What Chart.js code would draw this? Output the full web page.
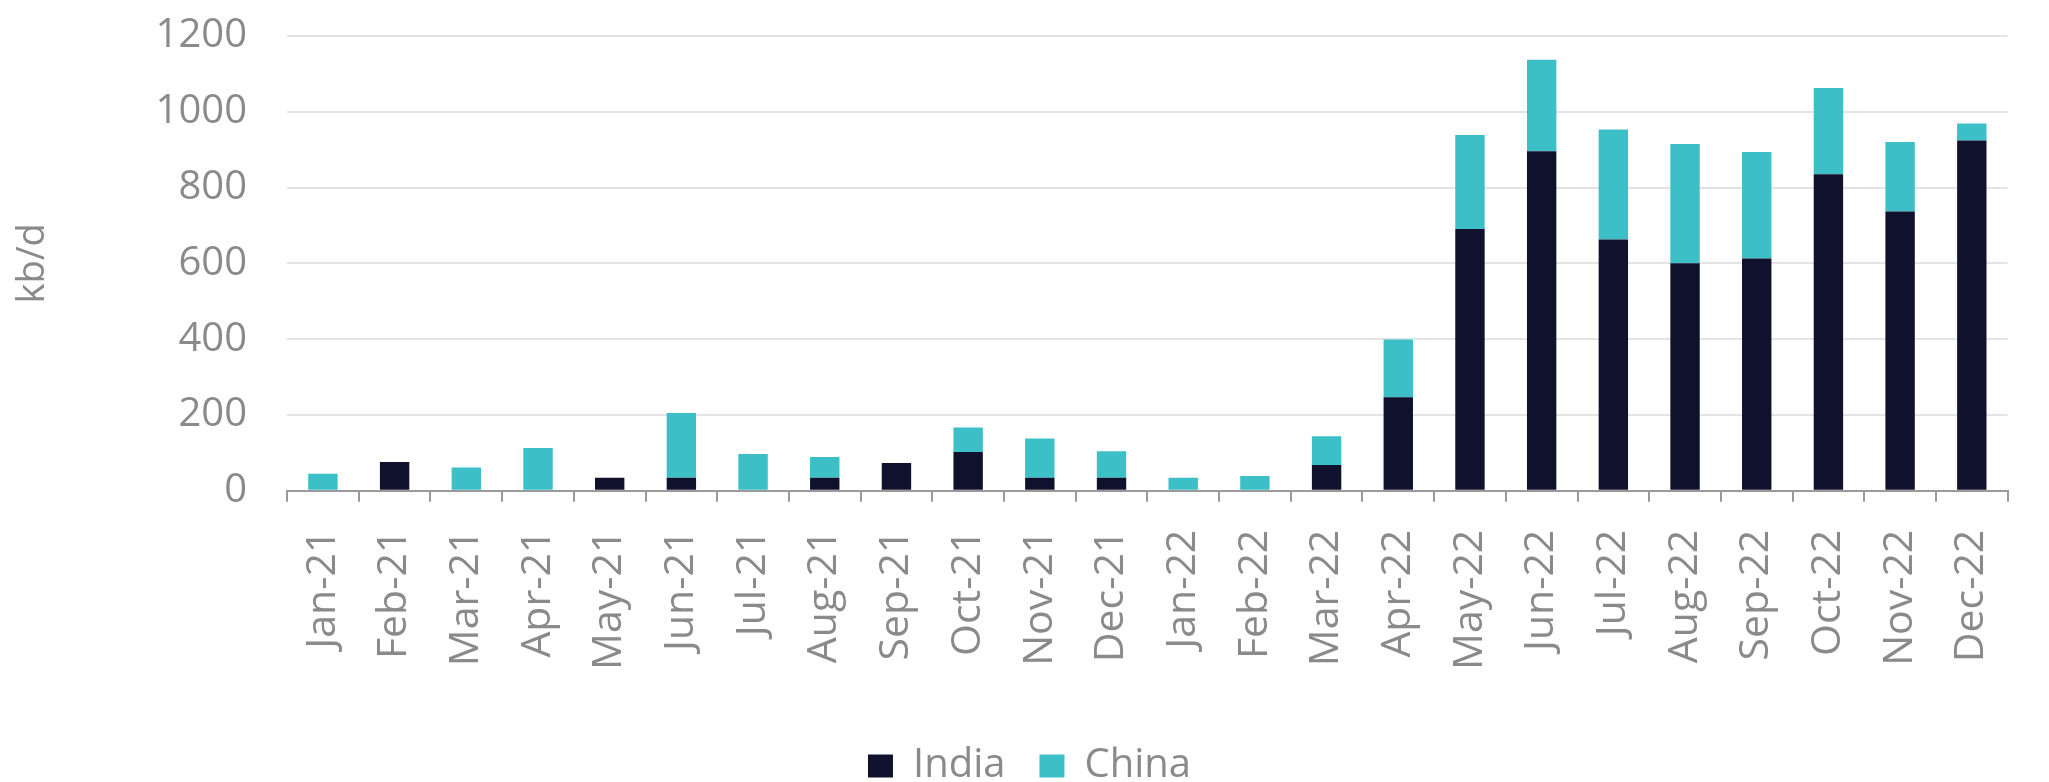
<!DOCTYPE html>
<html>
<head>
<meta charset="utf-8">
<script src="https://cdn.jsdelivr.net/npm/chart.js@4/dist/chart.umd.min.js"></script>
<style>
  html, body { margin: 0; padding: 0; background: #ffffff; }
  #wrap { width: 2049px; height: 782px; }
</style>
</head>
<body>
<div id="wrap"><canvas id="exports" width="2049" height="782"></canvas></div>
<script>
var months = ["Jan-21","Feb-21","Mar-21","Apr-21","May-21","Jun-21","Jul-21","Aug-21","Sep-21","Oct-21","Nov-21","Dec-21",
              "Jan-22","Feb-22","Mar-22","Apr-22","May-22","Jun-22","Jul-22","Aug-22","Sep-22","Oct-22","Nov-22","Dec-22"];
var india = [0, 76, 0, 0, 34, 34, 0, 34, 73, 102, 34, 34,
             0, 0, 68, 247, 691, 896, 663, 600, 613, 835, 737, 924];
var china = [45, 0, 61, 113, 0, 171, 97, 55, 0, 65, 104, 70,
             34, 39, 76, 152, 248, 241, 290, 315, 281, 228, 183, 45];
var yTicks = [0, 200, 400, 600, 800, 1000, 1200];

var greyText = "#8a8a8a";
var fontName = "'Open Sans', Lato, sans-serif";

function generate_stack(div_id) {
    var barData = {
      labels: months,
      datasets: [{
        label: "India",
        data: india,
        backgroundColor: "#10112d",
        borderWidth: 0
      }, {
        label: "China",
        data: china,
        backgroundColor: "#3cbfc6",
        borderWidth: 0
      }]
    };

    var barOptions = {
      responsive: false,
      animation: false,
      layout: { padding: { left: 10, right: 0, top: 0, bottom: -14 } },
      datasets: { bar: { categoryPercentage: 0.41, barPercentage: 1 } },
      scales: {
        x: {
          stacked: true,
          grid: { drawOnChartArea: false, drawTicks: true, tickLength: 11, color: "#9a9a9a", lineWidth: 2 },
          border: { color: "#9a9a9a", width: 2 },
          ticks: { color: greyText, font: { family: fontName, size: 41 }, minRotation: 90, maxRotation: 90, padding: 28, autoSkip: false },
          afterFit: function(scale) { scale.height += 14; }
        },
        y: {
          stacked: true,
          min: 0,
          max: 1200,
          afterBuildTicks: function(axis) {
            axis.ticks = yTicks.map(function(v) { return { value: v }; });
          },
          afterFit: function(scale) { scale.paddingTop = 36; },
          grid: { color: "#e4e4e4", lineWidth: 2, drawTicks: false },
          border: { display: false },
          ticks: { color: greyText, font: { family: fontName, size: 40 }, padding: 40,
                   callback: function(v) { return String(v); } },
          title: { display: true, text: "kb/d", color: greyText, font: { family: fontName, size: 38 }, padding: { top: 0, bottom: 60 } }
        }
      },
      plugins: {
        legend: {
          display: true,
          position: "bottom",
          labels: { color: greyText, font: { family: fontName, size: 40 }, boxWidth: 25, boxHeight: 23, padding: 34 }
        },
        tooltip: { enabled: false }
      }
    };

    var ctx = document.getElementById(div_id).getContext("2d");
    new Chart(ctx, { type: "bar", data: barData, options: barOptions });
}

generate_stack("exports");
</script>
</body>
</html>
